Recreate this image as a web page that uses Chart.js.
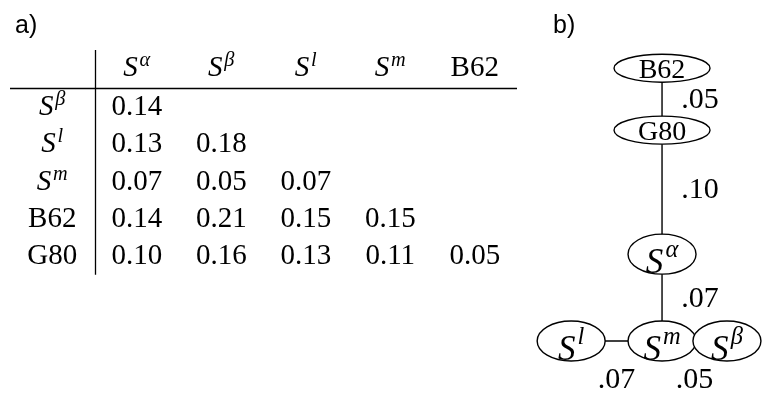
<!DOCTYPE html>
<html>
<head>
<meta charset="utf-8">
<script src="https://cdn.jsdelivr.net/npm/chart.js@4.4.1/dist/chart.umd.min.js"></script>
<style>
html, body { margin: 0; padding: 0; background: #fff; }
#wrap { position: relative; width: 762px; height: 393px; overflow: hidden; }
#tableChart { position: absolute; left: 0; top: 0; }
#treeChart { position: absolute; left: 520px; top: 0; }
</style>
</head>
<body>
<div id="wrap">
  <canvas id="tableChart" width="540" height="393"></canvas>
  <canvas id="treeChart" width="242" height="393"></canvas>
</div>
<script>
// a) pairwise distances, lower triangle
var colLabels = ["S^α", "S^β", "S^l", "S^m", "B62"];
var rowLabels = ["S^β", "S^l", "S^m", "B62", "G80"];
var distances = [
    [0.14],
    [0.13, 0.18],
    [0.07, 0.05, 0.07],
    [0.14, 0.21, 0.15, 0.15],
    [0.10, 0.16, 0.13, 0.11, 0.05]
];

// b) tree, edges from -> to with their length
var treeNodes = ["B62", "G80", "S^α", "S^m", "S^l", "S^β"];
var treeFrom = ["B62", "G80", "S^α", "S^m", "S^m"];
var treeTo = ["G80", "S^α", "S^m", "S^l", "S^β"];
var treeDist = [0.05, 0.10, 0.07, 0.07, 0.05];

// layout only: which way each edge goes
var edgeDir = ["down", "down", "down", "left", "right"];

var SERIF = '"Liberation Serif", "Times New Roman", serif';
var SANS = '"Liberation Sans", Arial, sans-serif';

//draws "B62" or "S^x" centered on cx
function drawLabel(ctx, label, cx, baseY, size, mathSize, raise) {
    var parts = label.split("^");
    ctx.fillStyle = "#000";
    ctx.textBaseline = "alphabetic";
    if (parts.length == 1) {
        ctx.font = size + "px " + SERIF;
        ctx.textAlign = "center";
        ctx.fillText(label, cx, baseY);
        return;
    }
    var supSize = mathSize * 0.7;
    ctx.font = "italic " + mathSize + "px " + SERIF;
    var w1 = ctx.measureText(parts[0]).width;
    ctx.font = "italic " + supSize + "px " + SERIF;
    var w2 = ctx.measureText(parts[1]).width;
    var gap = mathSize * 0.06;
    var x0 = cx - (w1 + gap + w2) / 2;
    ctx.textAlign = "left";
    ctx.font = "italic " + mathSize + "px " + SERIF;
    ctx.fillText(parts[0], x0, baseY);
    ctx.font = "italic " + supSize + "px " + SERIF;
    ctx.fillText(parts[1], x0 + w1 + gap, baseY - raise);
}

function panelLetter(ctx, txt, x) {
    ctx.font = "25px " + SANS;
    ctx.fillStyle = "#000";
    ctx.textAlign = "left";
    ctx.textBaseline = "alphabetic";
    ctx.fillText(txt, x, 33);
}

// ---------- table ----------
var headerPts = [];
for (var c = 0; c < colLabels.length; c++) {
    headerPts.push({x: c + 1, y: 0, label: colLabels[c]});
}
var rowPts = [];
for (var r = 0; r < rowLabels.length; r++) {
    rowPts.push({x: 0, y: r + 1, label: rowLabels[r]});
}
var cellPts = [];
for (var r = 0; r < distances.length; r++) {
    for (var c = 0; c < distances[r].length; c++) {
        cellPts.push({x: c + 1, y: r + 1, label: distances[r][c].toFixed(2)});
    }
}

var tablePlugin = {
    id: "tableText",
    afterDatasetsDraw: function (chart) {
        var ctx = chart.ctx;
        var xs = chart.scales.x, ys = chart.scales.y;
        ctx.save();
        panelLetter(ctx, "a)", 15);

        //rules
        ctx.strokeStyle = "#000";
        ctx.lineWidth = 1.3;
        ctx.beginPath();
        var ry = Math.round(ys.getPixelForValue(0.52)) + 0.5;
        ctx.moveTo(xs.getPixelForValue(-0.5), ry);
        ctx.lineTo(xs.getPixelForValue(5.5), ry);
        var vx = Math.round(xs.getPixelForValue(0.5)) + 0.5;
        ctx.moveTo(vx, ys.getPixelForValue(-0.5));
        ctx.lineTo(vx, ys.getPixelForValue(5.55));
        ctx.stroke();

        chart.data.datasets.forEach(function (ds, i) {
            var meta = chart.getDatasetMeta(i);
            meta.data.forEach(function (el, j) {
                var off = ds.data[j].y == 0 ? 7 : 9.5;
                drawLabel(ctx, ds.data[j].label, el.x, el.y + off, 29, 29, 10);
            });
        });
        ctx.restore();
    }
};

new Chart(document.getElementById("tableChart"), {
    type: "scatter",
    data: {
        datasets: [
            {data: headerPts, pointRadius: 0},
            {data: rowPts, pointRadius: 0},
            {data: cellPts, pointRadius: 0}
        ]
    },
    options: {
        responsive: false,
        animation: false,
        layout: {padding: {left: 10, right: 23, top: 50, bottom: 120}},
        plugins: {legend: {display: false}, tooltip: {enabled: false}},
        scales: {
            x: {type: "linear", display: false, min: -0.5, max: 5.5},
            y: {type: "linear", display: false, reverse: true, min: -0.5, max: 5.5}
        }
    },
    plugins: [tablePlugin]
});

// ---------- tree ----------
var nodePos = {};
nodePos[treeNodes[0]] = {x: 0, y: 0};
for (var i = 0; i < treeFrom.length; i++) {
    var p = nodePos[treeFrom[i]];
    var d = treeDist[i];
    if (edgeDir[i] == "down") nodePos[treeTo[i]] = {x: p.x, y: p.y + d};
    else if (edgeDir[i] == "left") nodePos[treeTo[i]] = {x: p.x - d, y: p.y};
    else nodePos[treeTo[i]] = {x: p.x + d, y: p.y};
}

function nodeSize(label) {
    return label.indexOf("^") >= 0 ? {rx: 34, ry: 20} : {rx: 48, ry: 14};
}

var treeDatasets = [];
for (var i = 0; i < treeFrom.length; i++) {
    treeDatasets.push({
        type: "line",
        data: [nodePos[treeFrom[i]], nodePos[treeTo[i]]],
        showLine: true,
        borderColor: "#000",
        borderWidth: 1.4,
        pointRadius: 0
    });
}
treeDatasets.push({
    data: treeNodes.map(function (n) { return {x: nodePos[n].x, y: nodePos[n].y, label: n}; }),
    pointRadius: 0,
    nodes: true
});

var treePlugin = {
    id: "treeText",
    afterDatasetsDraw: function (chart) {
        var ctx = chart.ctx;
        var xs = chart.scales.x, ys = chart.scales.y;
        ctx.save();
        panelLetter(ctx, "b)", 33);

        chart.data.datasets.forEach(function (ds, i) {
            if (!ds.nodes) return;
            var meta = chart.getDatasetMeta(i);
            meta.data.forEach(function (el, j) {
                var lab = ds.data[j].label;
                var s = nodeSize(lab);
                ctx.beginPath();
                ctx.ellipse(el.x, el.y, s.rx, s.ry, 0, 0, Math.PI * 2);
                ctx.fillStyle = "#fff";
                ctx.fill();
                ctx.strokeStyle = "#000";
                ctx.lineWidth = 1.4;
                ctx.stroke();
                if (lab.indexOf("^") >= 0) {
                    drawLabel(ctx, lab, el.x, el.y + 19, 28, 35, 16);
                } else {
                    drawLabel(ctx, lab, el.x, el.y + 9.5, 28, 28, 0);
                }
            });
        });

        //edge lengths
        ctx.font = "30px " + SERIF;
        ctx.fillStyle = "#000";
        ctx.textAlign = "center";
        ctx.textBaseline = "alphabetic";
        for (var i = 0; i < treeFrom.length; i++) {
            var a = nodePos[treeFrom[i]], b = nodePos[treeTo[i]];
            var ax = xs.getPixelForValue(a.x), ay = ys.getPixelForValue(a.y);
            var bx = xs.getPixelForValue(b.x), by = ys.getPixelForValue(b.y);
            var txt = treeDist[i].toFixed(2).replace(/^0/, "");
            if (edgeDir[i] == "down") {
                var top = ay + nodeSize(treeFrom[i]).ry;
                var bot = by - nodeSize(treeTo[i]).ry;
                ctx.fillText(txt, ax + 38, (top + bot) / 2 + 9);
            } else {
                ctx.fillText(txt, (ax + bx) / 2, ay + 47);
            }
        }
        ctx.restore();
    }
};

new Chart(document.getElementById("treeChart"), {
    type: "scatter",
    data: {datasets: treeDatasets},
    options: {
        responsive: false,
        animation: false,
        layout: {padding: 0},
        plugins: {legend: {display: false}, tooltip: {enabled: false}},
        scales: {
            x: {type: "linear", display: false, min: -0.1094, max: 0.077},
            y: {type: "linear", display: false, reverse: true, min: -0.055, max: 0.262}
        }
    },
    plugins: [treePlugin]
});
</script>
</body>
</html>
